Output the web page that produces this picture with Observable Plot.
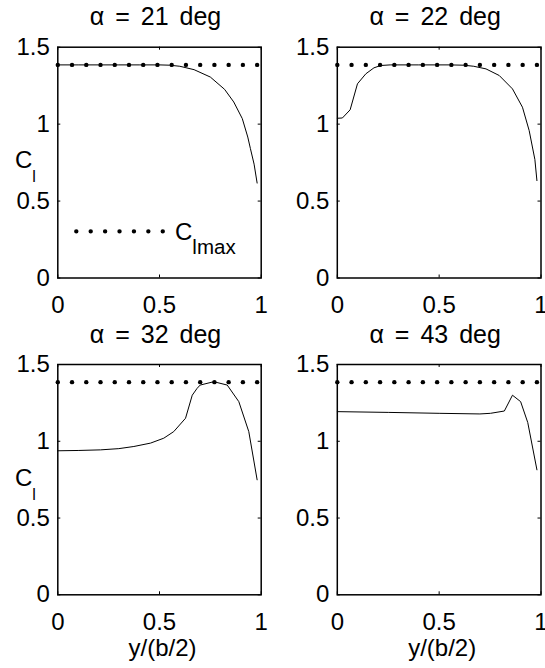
<!DOCTYPE html>
<html><head><meta charset="utf-8">
<script src="https://cdn.jsdelivr.net/npm/d3@7"></script>
<script src="https://cdn.jsdelivr.net/npm/@observablehq/plot@0.6"></script>
<style>
body{margin:0;background:#fff;}
#chart{position:relative;width:545px;height:668px;overflow:hidden;font-family:"Liberation Sans",Arial,Helvetica,sans-serif;}
.panel{position:absolute;}
#overlay{position:absolute;left:0;top:0;pointer-events:none;overflow:visible;}
</style></head><body><div id="chart"></div>
<script>
// ---- data ----
const titles = ["α = 21 deg", "α = 22 deg", "α = 32 deg", "α = 43 deg"];
const xLabel = "y/(b/2)";
const yLabelMain = "C", yLabelSub = "l";
const legendMain = "C", legendSub = "lmax";
const xTicks = [0, 0.5, 1];
const xTickLabels = ["0", "0.5", "1"];
const yTicks = [0, 0.5, 1, 1.5];
const yTickLabels = ["0", "0.5", "1", "1.5"];
const clmax = 1.385;
const stations = [0, 0.07, 0.14, 0.21, 0.28, 0.35, 0.42, 0.49, 0.56, 0.63, 0.70, 0.77, 0.84, 0.91, 0.98];

const x21 = [0, 0.1, 0.2, 0.3, 0.4, 0.5, 0.55, 0.6, 0.67, 0.75, 0.82, 0.865, 0.907, 0.934, 0.947, 0.965, 0.98];
const cl21 = [1.385, 1.385, 1.385, 1.385, 1.385, 1.385, 1.383, 1.376, 1.354, 1.306, 1.226, 1.144, 1.036, 0.916, 0.841, 0.74, 0.617];

const x22 = [0, 0.025, 0.063, 0.099, 0.14, 0.18, 0.213, 0.26, 0.4, 0.55, 0.62, 0.67, 0.73, 0.795, 0.86, 0.909, 0.942, 0.97, 0.98];
const cl22 = [1.038, 1.04, 1.093, 1.262, 1.327, 1.366, 1.381, 1.385, 1.385, 1.385, 1.383, 1.376, 1.359, 1.316, 1.229, 1.11, 0.958, 0.77, 0.633];

const x32 = [0, 0.1, 0.21, 0.3, 0.374, 0.456, 0.521, 0.57, 0.628, 0.661, 0.685, 0.70, 0.767, 0.833, 0.89, 0.939, 0.98];
const cl32 = [0.938, 0.94, 0.944, 0.952, 0.966, 0.988, 1.02, 1.063, 1.15, 1.30, 1.345, 1.366, 1.388, 1.366, 1.258, 1.063, 0.749];

const x43 = [0, 0.25, 0.5, 0.7, 0.752, 0.82, 0.86, 0.90, 0.935, 0.98];
const cl43 = [1.193, 1.188, 1.182, 1.178, 1.182, 1.197, 1.30, 1.258, 1.122, 0.814];

// ---- layout ----
const panels = [
  {xs: x21, ys: cl21, title: titles[0], left: 0,   top: 0,   width: 272, height: 320, ml: 57.3, mr: 11.3, mt: 46.7, mb: 42.5, xl: false, yl: true},
  {xs: x22, ys: cl22, title: titles[1], left: 272, top: 0,   width: 273, height: 320, ml: 64.8, mr: 4.5,  mt: 46.7, mb: 42.5, xl: false, yl: false},
  {xs: x32, ys: cl32, title: titles[2], left: 0,   top: 320, width: 272, height: 348, ml: 57.3, mr: 11.3, mt: 44,   mb: 73.7, xl: true,  yl: true},
  {xs: x43, ys: cl43, title: titles[3], left: 272, top: 320, width: 273, height: 348, ml: 64.8, mr: 4.5,  mt: 44,   mb: 73.7, xl: true,  yl: false}
];

const chart = document.getElementById("chart");
const FONT = "'Liberation Sans', Arial, Helvetica, sans-serif";
const WS = 4; // extra gap between the title's words

for (const p of panels) {
  const ph = p.height - p.mt - p.mb;
  const pw = p.width - p.ml - p.mr;
  const rows = p.xs.map((x, i) => ({x, y: p.ys[i]}));
  const marks = [
    Plot.frame({stroke: "black", strokeWidth: 1.5}),
    Plot.tickX(xTicks, {x: d => d, insetTop: ph - 3, stroke: "black"}),
    Plot.tickX(xTicks, {x: d => d, insetBottom: ph - 3, stroke: "black"}),
    Plot.tickY(yTicks, {y: d => d, insetRight: pw - 3, stroke: "black"}),
    Plot.tickY(yTicks, {y: d => d, insetLeft: pw - 3, stroke: "black"}),
    Plot.axisX(xTicks, {tickSize: 0, tickPadding: 18, label: null, fontSize: 24,
      tickFormat: d => xTickLabels[xTicks.indexOf(d)]}),
    Plot.axisY(yTicks, {tickSize: 0, tickPadding: 8, label: null, fontSize: 24,
      tickFormat: d => yTickLabels[yTicks.indexOf(d)]}),
    Plot.dot(stations, {x: d => d, y: () => clmax, r: 2.2, fill: "black", stroke: null}),
    Plot.line(rows, {x: "x", y: "y", stroke: "black", strokeWidth: 1}),
    Plot.text([p.title], {frameAnchor: "top", dy: -22, dx: -4, lineAnchor: "bottom", fontSize: 25, text: d => d})
  ];
  if (p.xl) marks.push(Plot.text([xLabel], {frameAnchor: "bottom", dy: 61, dx: 3, lineAnchor: "bottom", fontSize: 24, text: d => d}));
  const svg = Plot.plot({
    width: p.width, height: p.height,
    marginLeft: p.ml, marginRight: p.mr, marginTop: p.mt, marginBottom: p.mb,
    x: {domain: [0, 1], axis: null},
    y: {domain: [0, 1.5], axis: null},
    style: {fontFamily: FONT, fontSize: "24px", overflow: "visible", background: "transparent", color: "black"},
    marks
  });
  d3.select(svg).selectAll("text").filter(function () { return this.textContent === p.title; })
    .style("word-spacing", WS + "px");
  const div = document.createElement("div");
  div.className = "panel";
  div.style.left = p.left + "px";
  div.style.top = p.top + "px";
  div.appendChild(svg);
  chart.appendChild(div);
}

// ---- overlay: axis labels with subscripts, legend ----
const ov = d3.select(chart).append("svg").attr("id", "overlay").attr("width", 545).attr("height", 668)
  .style("font-family", FONT);
for (const p of panels) {
  if (!p.yl) continue;
  const t = ov.append("text").attr("x", 15).attr("y", p.top + p.mt + 121.5).attr("font-size", 24).attr("fill", "black");
  t.append("tspan").text(yLabelMain);
  t.append("tspan").attr("dy", 14).attr("font-size", 16).text(yLabelSub);
}
// legend (panel 1)
{
  const p = panels[0];
  const y0 = p.top + p.mt + (1 - 0.3 / 1.5) * (p.height - p.mt - p.mb);
  ov.append("line").attr("x1", 76.3).attr("x2", 162.8).attr("y1", y0).attr("y2", y0)
    .attr("stroke", "black").attr("stroke-width", 4.4).attr("stroke-linecap", "round")
    .attr("stroke-dasharray", "0 14.41");
  const t = ov.append("text").attr("x", 175).attr("y", y0 + 8.3).attr("font-size", 24).attr("fill", "black");
  t.append("tspan").text(legendMain);
  t.append("tspan").attr("dy", 14.3).attr("font-size", 20.5).text(legendSub);
}
</script>
</body></html>
